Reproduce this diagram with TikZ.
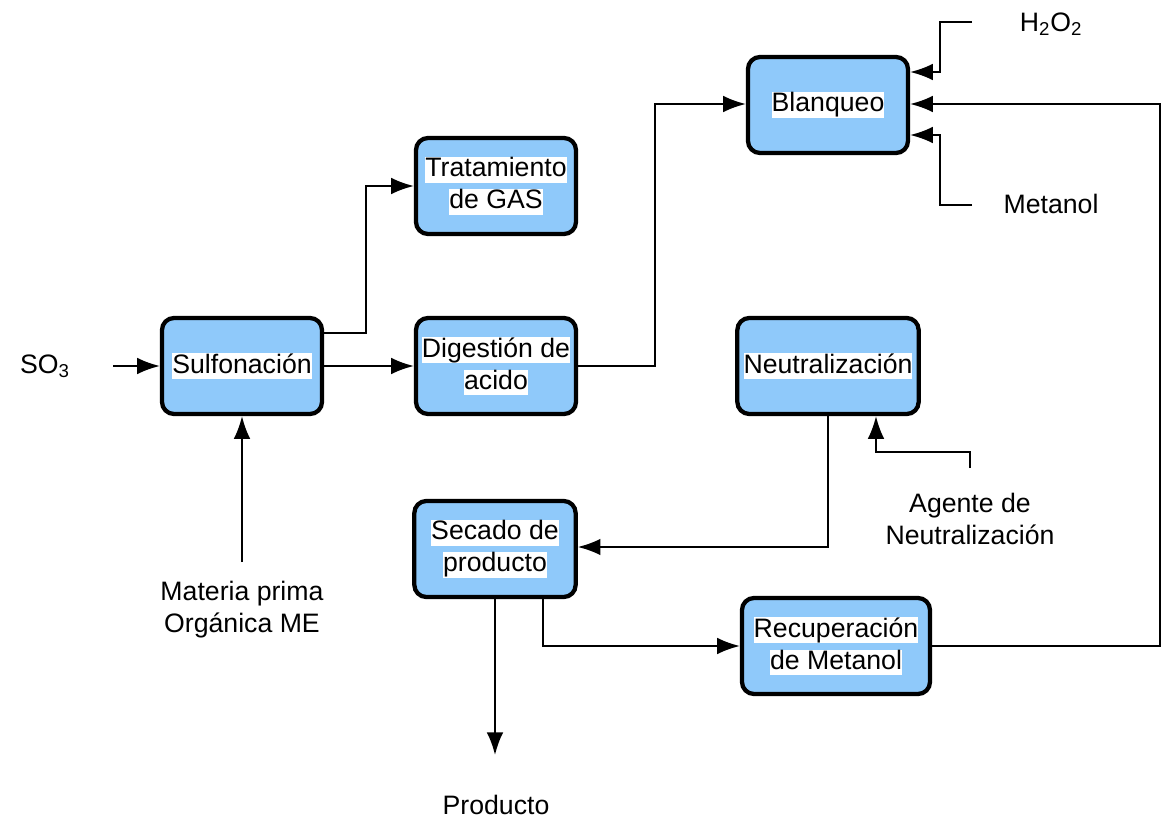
\documentclass[tikz,border=0pt]{standalone}
\usepackage{fontspec}
\setmainfont{Liberation Sans}
\usetikzlibrary{arrows.meta}
\definecolor{boxblue}{RGB}{143,201,250}
\setlength{\fboxsep}{0pt}
\newcommand{\hl}[1]{\colorbox{white}{\rule[-0.21em]{0pt}{0.94em}#1}}

\begin{document}
\begin{tikzpicture}[x=0.75pt, y=-0.75pt,
    every node/.style={font=\fontsize{20}{24}\selectfont, align=center},
    proc/.style={draw, line width=3.2pt, rounded corners=9pt, fill=boxblue, minimum height=72pt, inner sep=0pt},
    flow/.style={line width=1.5pt, -{Latex[length=17pt, width=12.5pt]}},
    line/.style={line width=1.5pt}]
    \useasboundingbox (0,0) rectangle (1171,823);

    \node [proc, minimum width=120pt] (Sul) at (242,366) {\hl{Sulfonación}};
    \node [proc, minimum width=120pt] (Tra) at (496,186) {\hl{Tratamiento}\\\hl{de GAS}};
    \node [proc, minimum width=120pt] (Dig) at (496,366) {\hl{Digestión de}\\\hl{acido}};
    \node [proc, minimum width=120pt] (Bla) at (828,105) {\hl{Blanqueo}};
    \node [proc, minimum width=136pt] (Neu) at (828,366) {\hl{Neutralización}};
    \node [proc, minimum width=121pt] (Sec) at (495,549) {\hl{Secado de}\\\hl{producto}};
    \node [proc, minimum width=141pt] (Rec) at (836,646) {\hl{Recuperación}\\\hl{de Metanol}};

    \node (SO) at (45,366) {SO\textsubscript{3}};
    \node (MP) at (242,610) {Materia prima\\Orgánica ME};
    \node (HO) at (1051,24) {H\textsubscript{2}O\textsubscript{2}};
    \node (Met) at (1051,204) {Metanol};
    \node (Age) at (970,519) {Agente de\\Neutralización};
    \node (Pro) at (496,805) {Producto};

    \coordinate (a) at (113,366);
    \coordinate (b) at (242,562);
    \coordinate (c) at (972,22);
    \coordinate (d) at (972,205);
    \coordinate (e) at (970,468);
    \coordinate (f) at (495,755);
    \coordinate (g) at (543,598);

    \draw [flow] (a) -- (Sul);
    \draw [flow] (b) -- (Sul);
    \draw [flow] (Sul.east |- 0,333) -| (366,186) -- (Tra);
    \draw [flow] (Sul) -- (Dig);
    \draw [flow] (Dig) -| (655,104) -- (Bla.west |- 0,104);
    \draw [flow] (c) -| (940,72) -- (Bla.east |- 0,72);
    \draw [flow] (d) -| (940,135) -- (Bla.east |- 0,135);
    \draw [flow] (Rec) -| (1160,104) -- (Bla.east |- 0,104);
    \draw [flow] (Neu.south) |- (Sec.east |- 0,547);
    \draw [flow] (e) |- (876,452) -- (Neu.south -| 876,0);
    \draw [flow] (Sec.south) -- (f);
    \draw [flow] (g) |- (Rec);
\end{tikzpicture}
\end{document}
